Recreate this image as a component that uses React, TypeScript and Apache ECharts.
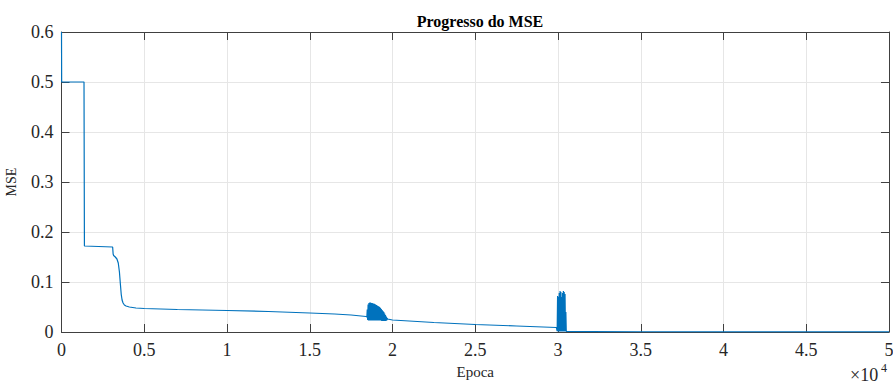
import React, { useEffect, useRef } from "react";
import * as echarts from "echarts";

// Main MSE curve (epoch, mse)
const mainEpochs = [0, 10, 1360, 1385, 3090, 3120, 3150, 3250, 3350, 3430, 3500, 3560, 3610, 3660, 3720, 3800, 3900, 4100, 4500, 5000, 6000, 7000, 8500, 10000, 12500, 15000, 16500, 17500, 18400];
const mainMse = [0.6, 0.5, 0.5, 0.172, 0.17, 0.156, 0.153, 0.15, 0.146, 0.138, 0.12, 0.095, 0.075, 0.064, 0.058, 0.054, 0.052, 0.05, 0.048, 0.047, 0.046, 0.045, 0.044, 0.043, 0.041, 0.038, 0.036, 0.034, 0.031];

// Oscillation burst around 1.85e4 - 1.97e4
const burstEpochs = [18450, 18475, 18500, 18525, 18550, 18575, 18600, 18625, 18650, 18675, 18700, 18725, 18750, 18775, 18800, 18825, 18850, 18875, 18900, 18925, 18950, 18975, 19000, 19025, 19050, 19075, 19100, 19125, 19150, 19175, 19200, 19225, 19250, 19275, 19300, 19325, 19350, 19375, 19400, 19425, 19450, 19475, 19500, 19525, 19550, 19575, 19600, 19625, 19650, 19675, 19700];
const burstMse = [0.03, 0.045, 0.024, 0.055, 0.023, 0.058, 0.023, 0.059, 0.023, 0.059, 0.023, 0.058, 0.023, 0.058, 0.023, 0.057, 0.023, 0.057, 0.023, 0.056, 0.023, 0.055, 0.023, 0.054, 0.023, 0.053, 0.023, 0.052, 0.023, 0.051, 0.023, 0.05, 0.023, 0.048, 0.023, 0.046, 0.022, 0.044, 0.022, 0.042, 0.022, 0.04, 0.022, 0.037, 0.022, 0.034, 0.022, 0.031, 0.023, 0.028, 0.026];

// Slow decline
const midEpochs = [20000, 22500, 25000, 27500, 29900];
const midMse = [0.024, 0.019, 0.015, 0.012, 0.009];

// Spikes around 3.0e4
const spikeEpochs = [29950, 29975, 30000, 30025, 30050, 30075, 30100, 30125, 30150, 30175, 30200, 30225, 30250, 30275, 30300, 30325, 30350, 30375, 30400, 30425, 30450, 30475, 30500];
const spikeMse = [0.002, 0.072, 0.001, 0.07, 0.001, 0.078, 0.001, 0.082, 0.001, 0.08, 0.001, 0.07, 0.001, 0.078, 0.001, 0.082, 0.001, 0.08, 0.001, 0.076, 0.001, 0.04, 0.001];

// Tail
const tailEpochs = [30600, 32000, 35000, 40000, 45000, 50000];
const tailMse = [0.001, 0.0008, 0.0005, 0.0003, 0.0002, 0.0002];

const xTicks = [0, 5000, 10000, 15000, 20000, 25000, 30000, 35000, 40000, 45000, 50000];
const yTicks = [0, 0.1, 0.2, 0.3, 0.4, 0.5, 0.6];

const FONT = "Liberation Serif";
const AXIS_COLOR = "#404040";
const GRID_COLOR = "#e6e6e6";
const TEXT_COLOR = "#262626";

function zip(xs: number[], ys: number[]) {
  return xs.map((x, i) => [x, ys[i]]);
}

export default function App() {
  const ref = useRef<HTMLDivElement>(null);
  useEffect(() => {
    if (!ref.current) return;
    const chart = echarts.init(ref.current, undefined, { renderer: "svg" });
    const data = [
      ...zip(mainEpochs, mainMse),
      ...zip(burstEpochs, burstMse),
      ...zip(midEpochs, midMse),
      ...zip(spikeEpochs, spikeMse),
      ...zip(tailEpochs, tailMse),
    ];
    const xMin = xTicks[0];
    const xMax = xTicks[xTicks.length - 1];
    const xInt = xTicks[1] - xTicks[0];
    const yMin = yTicks[0];
    const yMax = yTicks[yTicks.length - 1];
    const yInt = 0.1;
    const tick = { show: true, inside: true, length: 8, lineStyle: { color: AXIS_COLOR } };
    const line = { show: true, onZero: false, lineStyle: { color: AXIS_COLOR, width: 1 } };
    const rich = { t: { fontFamily: FONT, fontSize: 18, color: TEXT_COLOR } };
    chart.setOption({
      animation: false,
      backgroundColor: "#ffffff",
      textStyle: { fontFamily: FONT },
      title: {
        text: "Progresso do MSE",
        left: 475,
        textAlign: "center",
        top: 8,
        textStyle: { fontFamily: FONT, fontSize: 16, fontWeight: "bold", color: "#000" },
      },
      grid: { left: 61.5, right: 4, top: 32, bottom: 53, outerBoundsMode: "none", containLabel: false },
      xAxis: [
        {
          type: "value",
          min: xMin,
          max: xMax,
          interval: xInt,
          name: "Epoca",
          nameLocation: "middle",
          nameGap: 32,
          nameTextStyle: { fontFamily: FONT, fontSize: 15, color: TEXT_COLOR },
          axisLine: line,
          axisTick: tick,
          axisLabel: {
            fontFamily: FONT,
            fontSize: 18,
            color: TEXT_COLOR,
            margin: 9,
            rich,
            formatter: (v: number) => "{t|" + String(+(v / 10000).toFixed(1)) + "}",
          },
          splitLine: { show: true, lineStyle: { color: GRID_COLOR, width: 1 } },
        },
        {
          type: "value",
          position: "top",
          min: xMin,
          max: xMax,
          interval: xInt,
          axisLine: line,
          axisTick: tick,
          axisLabel: { show: false },
          splitLine: { show: false },
        },
      ],
      yAxis: [
        {
          type: "value",
          min: yMin,
          max: yMax,
          interval: yInt,
          name: "MSE",
          nameLocation: "middle",
          nameGap: 43,
          nameTextStyle: { fontFamily: FONT, fontSize: 14, color: TEXT_COLOR },
          axisLine: line,
          axisTick: tick,
          axisLabel: {
            fontFamily: FONT,
            fontSize: 18,
            color: TEXT_COLOR,
            margin: 8,
            rich,
            formatter: (v: number) => "{t|" + String(+v.toFixed(1)) + "}",
          },
          splitLine: { show: true, lineStyle: { color: GRID_COLOR, width: 1 } },
        },
        {
          type: "value",
          position: "right",
          min: yMin,
          max: yMax,
          interval: yInt,
          axisLine: line,
          axisTick: tick,
          axisLabel: { show: false },
          splitLine: { show: false },
        },
      ],
      graphic: [
        {
          type: "text",
          left: 850,
          top: 366,
          style: { text: "×10", fontFamily: FONT, fontSize: 18, fill: TEXT_COLOR },
        },
        {
          type: "text",
          left: 881,
          top: 362,
          style: { text: "4", fontFamily: FONT, fontSize: 12, fill: TEXT_COLOR },
        },
      ],
      series: [
        {
          type: "line",
          data,
          showSymbol: false,
          symbol: "none",
          lineStyle: { color: "#0072BD", width: 1.2 },
          xAxisIndex: 0,
          yAxisIndex: 0,
        },
      ],
    });
    return () => chart.dispose();
  }, []);
  return <div ref={ref} style={{ position: "fixed", left: 0, top: 0, width: 893, height: 385 }} />;
}
